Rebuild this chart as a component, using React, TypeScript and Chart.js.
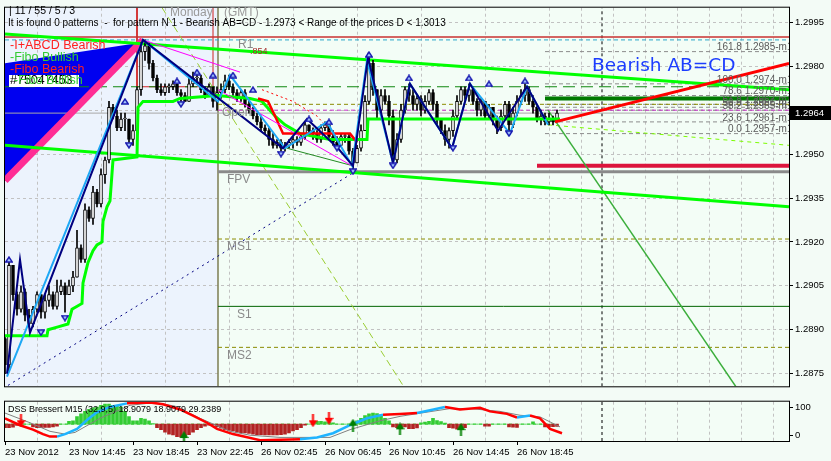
import React, { useEffect, useRef } from 'react';
import { Chart, registerables } from 'chart.js';

Chart.register(...registerables);

// ---------------- data ----------------
const timeLabels = ['23 Nov 2012', '23 Nov 14:45', '23 Nov 18:45', '23 Nov 22:45', '26 Nov 02:45', '26 Nov 06:45', '26 Nov 10:45', '26 Nov 14:45', '26 Nov 18:45'];
const barsPerLabel = 16;
const visibleBars = 196;

const firstOpen = 1.2887;
const closes = [
  1.2878, 1.2912, 1.2902, 1.2897, 1.2903, 1.2895, 1.2892, 1.2897, 1.2902, 1.2896,
  1.2900, 1.2902, 1.2898, 1.2903, 1.2905, 1.2902, 1.2905, 1.2908, 1.2918, 1.2914,
  1.2931, 1.2928, 1.2937, 1.2933, 1.2943, 1.2948, 1.2966, 1.2963, 1.2959, 1.2962,
  1.2962, 1.2955, 1.2958, 1.2972, 1.2985, 1.2987, 1.2981, 1.2976, 1.2972, 1.2971,
  1.2973, 1.2973, 1.2974, 1.2971, 1.2970, 1.2968, 1.2974, 1.2976, 1.2976, 1.2972,
  1.2970, 1.2973, 1.2968, 1.2971, 1.2972, 1.2975, 1.2973, 1.2971, 1.2969, 1.2971,
  1.2967, 1.2965, 1.2963, 1.2961, 1.2959, 1.2958, 1.2955, 1.2953, 1.2954, 1.2952,
  1.2953, 1.2954, 1.2955, 1.2954, 1.2956, 1.2960, 1.2958, 1.2957, 1.2955, 1.2959,
  1.2960, 1.2956, 1.2954, 1.2953, 1.2956, 1.2956, 1.2951, 1.2947, 1.2952, 1.2958,
  1.2968, 1.2981, 1.2972, 1.2965, 1.2970, 1.2968, 1.2963, 1.2948, 1.2955, 1.2965,
  1.2972, 1.2970, 1.2967, 1.2969, 1.2965, 1.2968, 1.2971, 1.2967, 1.2962, 1.2958,
  1.2955, 1.2958, 1.2963, 1.2968, 1.2972, 1.2970, 1.2972, 1.2968, 1.2965, 1.2968,
  1.2963, 1.2966, 1.2962, 1.2959, 1.2963, 1.2967, 1.2960, 1.2964, 1.2968, 1.2970,
  1.2972, 1.2968, 1.2966, 1.2962, 1.2963, 1.2961, 1.2962, 1.2961, 1.2964,
];
const highs = [
  1.2888, 1.2913, 1.2912, 1.2903, 1.2905, 1.2904, 1.2897, 1.2898, 1.2903, 1.2902,
  1.2902, 1.2905, 1.2903, 1.2907, 1.2907, 1.2906, 1.2907, 1.2910, 1.2924, 1.2919,
  1.2933, 1.2932, 1.2939, 1.2938, 1.2945, 1.2949, 1.2968, 1.2967, 1.2965, 1.2964,
  1.2964, 1.2962, 1.2960, 1.2973, 1.2988, 1.2989, 1.2988, 1.2982, 1.2977, 1.2974,
  1.2974, 1.2974, 1.2975, 1.2974, 1.2972, 1.2971, 1.2976, 1.2978, 1.2978, 1.2977,
  1.2973, 1.2974, 1.2973, 1.2973, 1.2974, 1.2977, 1.2977, 1.2974, 1.2972, 1.2972,
  1.2972, 1.2969, 1.2966, 1.2964, 1.2963, 1.2960, 1.2959, 1.2957, 1.2955, 1.2955,
  1.2954, 1.2955, 1.2956, 1.2956, 1.2957, 1.2961, 1.2960, 1.2959, 1.2958, 1.2960,
  1.2961, 1.2960, 1.2958, 1.2956, 1.2957, 1.2957, 1.2957, 1.2952, 1.2953, 1.2960,
  1.2970, 1.2983, 1.2982, 1.2972, 1.2972, 1.2972, 1.2970, 1.2965, 1.2957, 1.2967,
  1.2973, 1.2974, 1.2972, 1.2970, 1.2970, 1.2970, 1.2972, 1.2972, 1.2968, 1.2962,
  1.2960, 1.2959, 1.2965, 1.2970, 1.2973, 1.2973, 1.2974, 1.2973, 1.2969, 1.2969,
  1.2968, 1.2967, 1.2966, 1.2963, 1.2965, 1.2968, 1.2968, 1.2966, 1.2970, 1.2972,
  1.2974, 1.2973, 1.2970, 1.2967, 1.2965, 1.2964, 1.2964, 1.2963, 1.2965,
];
const lows = [
  1.2875, 1.2876, 1.2900, 1.2895, 1.2896, 1.2893, 1.2891, 1.2891, 1.2896, 1.2894,
  1.2894, 1.2898, 1.2897, 1.2897, 1.2902, 1.2896, 1.2902, 1.2903, 1.2908, 1.2913,
  1.2913, 1.2927, 1.2926, 1.2932, 1.2932, 1.2940, 1.2947, 1.2962, 1.2958, 1.2958,
  1.2958, 1.2954, 1.2953, 1.2958, 1.2970, 1.2982, 1.2979, 1.2975, 1.2971, 1.2970,
  1.2970, 1.2971, 1.2972, 1.2970, 1.2968, 1.2968, 1.2968, 1.2973, 1.2974, 1.2971,
  1.2969, 1.2970, 1.2966, 1.2965, 1.2969, 1.2971, 1.2972, 1.2970, 1.2968, 1.2968,
  1.2966, 1.2964, 1.2962, 1.2960, 1.2958, 1.2957, 1.2953, 1.2952, 1.2952, 1.2951,
  1.2951, 1.2952, 1.2952, 1.2953, 1.2953, 1.2955, 1.2957, 1.2955, 1.2954, 1.2954,
  1.2958, 1.2955, 1.2953, 1.2952, 1.2953, 1.2954, 1.2950, 1.2945, 1.2947, 1.2951,
  1.2958, 1.2967, 1.2970, 1.2962, 1.2964, 1.2967, 1.2960, 1.2947, 1.2947, 1.2954,
  1.2964, 1.2968, 1.2965, 1.2965, 1.2963, 1.2964, 1.2967, 1.2965, 1.2960, 1.2957,
  1.2953, 1.2952, 1.2956, 1.2962, 1.2967, 1.2968, 1.2968, 1.2967, 1.2963, 1.2963,
  1.2962, 1.2962, 1.2960, 1.2957, 1.2958, 1.2962, 1.2958, 1.2959, 1.2963, 1.2967,
  1.2968, 1.2967, 1.2964, 1.2961, 1.2960, 1.2960, 1.2960, 1.2960, 1.2961,
];

const priceTicks = [1.2875, 1.2890, 1.2905, 1.2920, 1.2935, 1.2950, 1.2965, 1.2980, 1.2995];
const priceMin = 1.28707;
const priceMax = 1.3;
const bidPrice = 1.2964;

const fibLevels = ['161.8', '100.0', '78.6', '61.8', '50.0', '38.2', '23.6', '0.0'];
const fibPrices = [1.2985, 1.2974, 1.2970, 1.2967, 1.2966, 1.2965, 1.2961, 1.2957];
const fibStartBar = 135;

const pivotNames = ['R1', 'Open', 'FPV', 'MS1', 'S1', 'MS2'];
const pivotPrices = [1.2990, 1.2967, 1.2944, 1.2921, 1.2898, 1.2884];
const pivotLabelBars = [58.25, 54.25, 55.5, 55.5, 58, 55.5];

const sessionStartBar = 53.25;
const nowBar = 149.25;
const tealPrice = 1.2989;
const swingPrice = 1.2973;
const targetPrice = 1.2969;
const stopPrice = 1.2946;
const magentaLevel = 1.2965;

const trendTop = [[0, 1.2991], [196, 1.2972]];
const trendBottom = [[0, 1.2953], [196, 1.2932]];
const greenSlant = [[135.75, 1.2965], [185, 1.2866]];
const abcdProjection = [[137.5, 1.2961], [196, 1.2981]];
const limeDashed = [[135.75, 1.2960], [196, 1.2953]];
const yellowDashed = [[39.25, 1.3], [99.5, 1.2871]];
const navyDotted = [[0.75, 1.2871], [87.5, 1.2944]];
const pinkEdge = [[0, 1.2941], [34.5, 1.2989]];
const blueWedge = [[0, 1.2981], [33.75, 1.2988], [0, 1.2941]];
const redBox = [[33, 1.3], [33, 1.2973], [52, 1.2973], [52, 1.3]];
const magentaA = [[34.5, 1.2989], [58.75, 1.2978]];
const magentaB = [[53.25, 1.2972], [86.75, 1.2946]];
const greenThin = [[70.5, 1.2952], [87, 1.2946]];
const redDotted = [[64.25, 1.2972], [72, 1.2968], [78, 1.2963], [81.25, 1.2958]];

const trailStop = [[0, 1.2888], [10.5, 1.2888], [10.75, 1.2890], [13.25, 1.2891], [15.75, 1.2892], [16.75, 1.2897], [19.25, 1.2899], [19.5, 1.2906], [20.75, 1.2913], [22, 1.2917], [23, 1.2919], [24.25, 1.2920], [24.5, 1.2927], [25.5, 1.2932], [26.25, 1.2934], [27, 1.2948], [33, 1.2949], [33.25, 1.2966], [34.5, 1.2968], [42, 1.2968], [43.75, 1.2969], [53, 1.2970], [61.25, 1.2969], [64.25, 1.2968], [67.5, 1.2963], [70, 1.2960], [73.75, 1.2957], [81.25, 1.2955], [90.5, 1.2955], [90.75, 1.2962], [138.75, 1.2962]];
const redStep = [[63.25, 1.2969], [65.75, 1.2968], [67.5, 1.2963], [69.5, 1.2957], [86.25, 1.2957], [88, 1.2954]];

const zigzagNavy = [[0.5, 1.2875], [3.75, 1.2914], [6.25, 1.2889], [34.5, 1.2989], [69.5, 1.2952], [75.5, 1.2962], [83.25, 1.2952], [87, 1.2946], [90.75, 1.2983], [97, 1.2947], [101.25, 1.2974], [111.75, 1.2952], [116.25, 1.2974], [123.25, 1.2958], [130.5, 1.2973], [135, 1.2962]];
const zigzagSky = [[0.5, 1.2874], [34.5, 1.2989], [53.25, 1.2968], [56.25, 1.2977], [70, 1.2952], [80.5, 1.2961], [86.75, 1.2946], [90.5, 1.2982], [97, 1.2947], [101.25, 1.2974], [111.75, 1.2952], [116.25, 1.2974], [126.25, 1.2957], [130.5, 1.2973], [135.75, 1.2960]];

const fractalUpBars = [1, 30, 43, 48, 52, 57, 62, 76, 81, 91, 101, 116, 121, 130];
const fractalUpPrices = [1.2914, 1.2968, 1.2975, 1.2978, 1.2977, 1.2977, 1.2972, 1.2962, 1.2961, 1.2984, 1.2976, 1.2976, 1.2974, 1.2975];
const fractalDownBars = [9, 15, 31, 44, 69, 83, 87, 97, 112, 126];
const fractalDownPrices = [1.2889, 1.2894, 1.2953, 1.2967, 1.2950, 1.2952, 1.2944, 1.2946, 1.2952, 1.2957];

// DSS Bressert indicator
const histBase = 40;
const dssHist = [
  27, 27, 29, 35, 40, 40, 40, 30, 27, 27,
  28, 28, 30, 33, 40, 40, 50, 52, 67, 77,
  86, 93, 99, 102, 108, 112, 112, 108, 108, 102,
  86, 67, 52, 52, 61, 58, 52, 42, 27, 20,
  11, 4, 1, -5, -7, -3, 2, 11, 20, 27,
  33, 36, 36, 30, 25, 20, 17, 15, 11, 9,
  8, 6, 4, 2, 2, 1, 1, 1, 1, 2,
  4, 8, 15, 20, 27, 36, 40, 44, 50, 50,
  48, 47, 45, 40, 40, 40, 40, 45, 52, 61,
  71, 77, 80, 78, 74, 61, 52, 30, 27, 27,
  30, 24, 24, 26, 45, 47, 50, 61, 53, 49,
  44, 27, 25, 22, 22, 27, 40, 40, 40, 40,
  33, 33, 40, 40, 40, 40, 30, 29, 28, 40,
  40, 40, 48, 40, 40, 30, 30, 31, 32,
];
const dssX = [0, 3.75, 7, 9.5, 11.25, 13, 15, 18, 20.5, 23, 26.25, 30.5, 36.25, 39.5, 43.75, 47, 50.5, 53, 57, 63.75, 73.75, 78, 82, 86.25, 90.5, 94.5, 98.75, 103, 106.25, 110, 113.75, 118.75, 121.25, 125.5, 128, 131.25, 133.75, 136.25, 139.25];
const dssY = [61, 36, 20, 4, -5, -5, 4, 23, 55, 83, 102, 115, 118, 112, 93, 71, 45, 23, 4, -18, -15, -8, 7, 36, 61, 74, 77, 80, 90, 102, 93, 99, 86, 77, 64, 71, 61, 23, 7];
const sigX = [0, 6.25, 11.25, 15, 17.5, 23.75, 31.25, 37.5, 42.5, 48.75, 56.25, 61.25, 68.75, 81.25, 86.25, 93.75, 98.75, 106.25, 111.25, 116.25, 123.75, 128.75, 133.75, 136.25, 138.75];
const sigY = [80, 45, 14, 4, 10, 61, 108, 118, 105, 61, 14, 0, -8, -8, 20, 52, 68, 85, 96, 96, 86, 72, 66, 48, 30];
const sellArrowX = [4, 77, 81];
const sellArrowY = [52, 52, 61];
const buyArrowX = [44.75, 87, 98.75, 114];
const buyArrowY = [-8.5, 36, 23, 20];
const indMin = -21;
const indMax = 121;
const indTicks = [0, 100];

// ---------------- helpers ----------------
const FONT = '"Liberation Sans", Arial, sans-serif';
const PLOT_BG = '#F3FDF6';
const LEFT_BG = '#ECF3FD';
const GRID = '#C2C2C2';

const pts = (a: number[][]) => a.map(([x, y]) => ({ x, y }));
const hLine = (x0: number, x1: number, p: number) => [{ x: x0, y: p }, { x: x1, y: p }];
const vLine = (x: number, lo: number, hi: number) => [{ x, y: lo }, { x, y: hi }];

function line(data: any[], color: string, width: number, order: number, dash: number[] = []) {
  return {
    type: 'line', data, borderColor: color, borderWidth: width, borderDash: dash,
    pointRadius: 0, pointHoverRadius: 0, fill: false, tension: 0, order,
  };
}

const isLabelTick = (v: number) => v % barsPerLabel === 0 && v / barsPerLabel < timeLabels.length;
const gridColorX = (v: number) => {
  if (v === undefined || v === 0) return 'rgba(0,0,0,0)';
  const show = v <= 136 ? v % 16 === 8 : v % 8 === 0;
  return show ? GRID : 'rgba(0,0,0,0)';
};

function xScale(showLabels: boolean) {
  return {
    type: 'linear', min: 0, max: visibleBars, offset: false,
    afterBuildTicks: (s: any) => {
      const t = [];
      for (let v = 0; v <= visibleBars; v += 8) t.push({ value: v });
      s.ticks = t;
    },
    grid: {
      offset: false, color: (c: any) => gridColorX(c.tick && c.tick.value), lineWidth: 1,
      drawTicks: showLabels, tickLength: 4, tickWidth: 1, tickBorderDash: [],
      tickColor: (c: any) => (c.tick && isLabelTick(c.tick.value) ? '#000' : 'rgba(0,0,0,0)'),
    },
    border: { display: false, dash: [3, 3] },
    ticks: {
      display: showLabels, autoSkip: false, maxRotation: 0, minRotation: 0, align: 'start', padding: 2,
      color: '#000', font: { family: FONT, size: 9.5 },
      callback: (v: number) => (isLabelTick(v) ? timeLabels[v / barsPerLabel] : ''),
    },
    afterFit: (s: any) => { s.height = showLabels ? 20 : 0; },
  };
}

function chevron(up: boolean) {
  const c = document.createElement('canvas');
  c.width = 8; c.height = 7;
  const g = c.getContext('2d')!;
  g.strokeStyle = '#1818B0'; g.fillStyle = '#A8CCFF'; g.lineWidth = 1.4;
  g.beginPath();
  if (up) { g.moveTo(0.7, 6); g.lineTo(4, 1); g.lineTo(7.3, 6); }
  else { g.moveTo(0.7, 1); g.lineTo(4, 6); g.lineTo(7.3, 1); }
  g.closePath(); g.fill(); g.stroke();
  return c;
}

function arrow(color: string, down: boolean) {
  const c = document.createElement('canvas');
  c.width = 9; c.height = 13;
  const g = c.getContext('2d')!;
  g.fillStyle = color;
  if (down) {
    g.fillRect(3.5, 0, 2, 8);
    g.beginPath(); g.moveTo(0, 6); g.lineTo(9, 6); g.lineTo(4.5, 13); g.closePath(); g.fill();
  } else {
    g.fillRect(3.5, 5, 2, 8);
    g.beginPath(); g.moveTo(0, 7); g.lineTo(9, 7); g.lineTo(4.5, 0); g.closePath(); g.fill();
  }
  return c;
}

// ---------------- main price chart ----------------
function mainConfig() {
  const opens = closes.map((c, i) => (i === 0 ? firstOpen : closes[i - 1]));
  const wickData = closes.map((c, i) => ({ x: i, y: [Math.min(lows[i], opens[i], c), Math.max(highs[i], opens[i], c)] }));
  const bodyData = closes.map((c, i) => ({ x: i, y: [opens[i], c] }));
  const bodyColors = closes.map((c, i) => (c >= opens[i] ? '#FFFFFF' : '#000000'));

  const ds: any[] = [];
  ds.push(line(vLine(sessionStartBar, priceMin, priceMax), '#7C7C52', 1.5, 40));
  ds.push(line(vLine(nowBar, priceMin, priceMax), '#000000', 1, 40, [3, 3]));
  ds.push(line(pts(redBox), '#D02020', 1, 39));
  ds.push(line(hLine(0, visibleBars, pivotPrices[0]), '#C83030', 1.5, 38));
  ds.push(line(hLine(0, visibleBars, tealPrice), '#2AA8C8', 1, 38, [4, 3]));
  ds.push(line(hLine(0, visibleBars, swingPrice), '#118811', 1.2, 37, [12, 6]));
  ds.push(line(hLine(sessionStartBar, visibleBars, pivotPrices[1]), '#8B8B00', 1, 37, [4, 3]));
  ds.push(line(hLine(sessionStartBar, visibleBars, magentaLevel), '#CC33CC', 1, 37, [4, 3]));
  ds.push(line(hLine(0, visibleBars, bidPrice), '#A8A8A8', 1, 37));
  fibPrices.forEach((p) => ds.push(line(hLine(fibStartBar, visibleBars, p), '#8C8C8C', 1, 37, [4, 3])));
  ds.push(line(hLine(fibStartBar, visibleBars, targetPrice), '#007A00', 4, 36));
  ds.push(line(hLine(133, visibleBars, stopPrice), '#DC143C', 4, 36));
  ds.push(line(hLine(sessionStartBar, visibleBars, pivotPrices[2]), '#8A8A8A', 3, 36));
  ds.push(line(hLine(sessionStartBar, visibleBars, pivotPrices[3]), '#8B8B00', 1, 36, [4, 3]));
  ds.push(line(hLine(sessionStartBar, visibleBars, pivotPrices[4]), '#006400', 1, 36));
  ds.push(line(hLine(sessionStartBar, visibleBars, pivotPrices[5]), '#8B8B00', 1, 36, [4, 3]));
  ds.push(line(pts(yellowDashed), '#9ACD32', 1, 34, [7, 4]));
  ds.push(line(pts(navyDotted), '#000080', 1, 34, [2, 4]));
  ds.push(line(pts(pinkEdge), '#FF2D95', 7, 33));
  ds.push(line(pts(trendTop), '#00FF00', 3, 30));
  ds.push(line(pts(trendBottom), '#00FF00', 3, 30));
  ds.push(line(pts(greenSlant), '#3BAE3B', 1.5, 30));
  ds.push(line(pts(limeDashed), '#7CFC00', 1, 30, [4, 4]));
  ds.push({ type: 'bar', data: wickData, backgroundColor: '#000000', barThickness: 1, grouped: false, order: 25 });
  ds.push({
    type: 'bar', data: bodyData, backgroundColor: bodyColors, borderColor: '#000000', borderWidth: 1,
    borderSkipped: false, barThickness: 3, grouped: false, minBarLength: 1, order: 24,
  });
  ds.push(line(pts(trailStop), '#00FF00', 3, 22));
  ds.push(line(pts(redStep), '#FF0000', 2.5, 21));
  ds.push(line(pts(redDotted), '#FF0000', 1, 21, [2, 3]));
  ds.push(line(pts(magentaA), '#FF00FF', 1, 20));
  ds.push(line(pts(magentaB), '#FF00FF', 1, 20));
  ds.push(line(pts(greenThin), '#228B22', 1, 20));
  ds.push(line(pts(zigzagSky), '#1EA8F5', 2, 19));
  ds.push(line(pts(zigzagNavy), '#000080', 2, 18));
  ds.push(line(pts(abcdProjection), '#FF0000', 3, 15));
  ds.push({
    type: 'line', showLine: false, order: 10, pointStyle: chevron(true), pointRadius: 4,
    data: fractalUpBars.map((x, i) => ({ x, y: fractalUpPrices[i] })),
  });
  ds.push({
    type: 'line', showLine: false, order: 10, pointStyle: chevron(false), pointRadius: 4,
    data: fractalDownBars.map((x, i) => ({ x, y: fractalDownPrices[i] })),
  });

  const decor = {
    id: 'mainDecor',
    beforeDraw(chart: any) {
      const { ctx, chartArea: a, scales } = chart;
      ctx.save();
      ctx.fillStyle = PLOT_BG;
      ctx.fillRect(a.left, a.top, a.right - a.left, a.bottom - a.top);
      const xr = scales.x.getPixelForValue(sessionStartBar);
      ctx.fillStyle = LEFT_BG;
      ctx.fillRect(a.left, a.top, xr - a.left, a.bottom - a.top);
      ctx.restore();
    },
    beforeDatasetsDraw(chart: any) {
      const { ctx, chartArea: a, scales } = chart;
      ctx.save();
      ctx.beginPath();
      ctx.rect(a.left, a.top, a.right - a.left, a.bottom - a.top);
      ctx.clip();
      ctx.fillStyle = '#0000F0';
      ctx.beginPath();
      blueWedge.forEach(([x, y], i) => {
        const px = scales.x.getPixelForValue(x);
        const py = scales.y.getPixelForValue(y);
        if (i === 0) ctx.moveTo(px, py); else ctx.lineTo(px, py);
      });
      ctx.closePath();
      ctx.fill();
      ctx.restore();
    },
    afterDraw(chart: any) {
      const { ctx, chartArea: a, scales } = chart;
      const xs = scales.x, ys = scales.y;
      ctx.save();
      // frame
      ctx.strokeStyle = '#000';
      ctx.lineWidth = 1;
      ctx.strokeRect(a.left - 0.5, a.top - 0.5, a.right - a.left + 1, a.bottom - a.top + 1);

      // fib labels (clipped at the plot edge)
      ctx.save();
      ctx.beginPath();
      ctx.rect(a.left, a.top, a.right - a.left, a.bottom - a.top);
      ctx.clip();
      ctx.font = `10px ${FONT}`;
      ctx.fillStyle = '#5A5A5A';
      ctx.textAlign = 'right';
      ctx.textBaseline = 'bottom';
      fibPrices.forEach((p, i) => {
        ctx.fillText(`${fibLevels[i]} ${p.toFixed(4)}-m15`, a.right + 9, ys.getPixelForValue(p) + 1);
      });
      ctx.restore();

      // pivot labels
      ctx.font = `12px ${FONT}`;
      ctx.fillStyle = '#8A8A8A';
      ctx.textAlign = 'left';
      ctx.textBaseline = 'top';
      pivotNames.forEach((n, i) => {
        ctx.fillText(n, xs.getPixelForValue(pivotLabelBars[i]), ys.getPixelForValue(pivotPrices[i]) + 2);
      });
      ctx.font = `9px ${FONT}`;
      ctx.fillStyle = '#A52A2A';
      ctx.textBaseline = 'middle';
      ctx.fillText('.854', 250, 52);

      // header
      ctx.fillStyle = '#000';
      ctx.font = `10.5px ${FONT}`;
      ctx.fillText('| 11 / 55 / 5 / 3', 9, 11);
      ctx.font = `10px ${FONT}`;
      ctx.fillText('It is found 0 patterns  -  for pattern N 1 - Bearish AB=CD - 1.2973 < Range of the prices D < 1.3013', 8, 23);
      ctx.font = `12px ${FONT}`;
      ctx.fillStyle = '#9A9A9A';
      ctx.fillText('Monday', 170, 13);
      ctx.fillText('(GMT)', 224, 13);

      // pattern legend
      ctx.font = `12.5px ${FONT}`;
      ctx.fillStyle = '#FF2020';
      ctx.fillText('-I+ABCD Bearish', 10, 46);
      ctx.fillStyle = '#33CC33';
      ctx.fillText('-Fibo Bullish', 10, 58);
      ctx.fillStyle = '#FF2020';
      ctx.fillText('-Fibo Bearish', 10, 70);
      ctx.fillStyle = '#FFFFFF';
      ctx.fillRect(9, 75, 70, 12);
      ctx.fillStyle = '#000';
      ctx.fillText('#75047453', 10, 81);
      ctx.fillStyle = '#33CC33';
      ctx.fillText('-Fibo Bullish', 14, 81);

      // title of the pattern
      ctx.font = '18.5px "DejaVu Sans", sans-serif';
      ctx.fillStyle = '#1C3DFF';
      ctx.fillText('Bearish AB=CD', 592, 66);

      // bid price box
      const by = Math.round(ys.getPixelForValue(bidPrice));
      ctx.fillStyle = '#000';
      ctx.fillRect(a.right + 1, by - 7, 42, 14);
      ctx.fillStyle = '#FFF';
      ctx.font = `9.5px ${FONT}`;
      ctx.fillText(bidPrice.toFixed(4), a.right + 6, by);
      ctx.restore();
    },
  };

  return {
    type: 'line',
    data: { datasets: ds },
    options: {
      responsive: false, maintainAspectRatio: false, animation: false, events: [],
      layout: { padding: { left: 5, top: 5, right: 0, bottom: 1 } },
      plugins: { legend: { display: false }, tooltip: { enabled: false } },
      scales: {
        x: xScale(false),
        y: {
          type: 'linear', position: 'right', min: priceMin, max: priceMax,
          afterBuildTicks: (s: any) => { s.ticks = priceTicks.map((v) => ({ value: v })); },
          ticks: { color: '#000', font: { family: FONT, size: 9.5 }, padding: 2, autoSkip: false, callback: (v: number) => Number(v).toFixed(4) },
          grid: { color: GRID, lineWidth: 1, drawTicks: true, tickLength: 4, tickColor: '#000', tickBorderDash: [] },
          border: { display: false, dash: [3, 3] },
          afterFit: (s: any) => { s.width = 42; },
        },
      },
    },
    plugins: [decor],
  };
}

// ---------------- DSS indicator ----------------
function indConfig() {
  const ds: any[] = [];
  ds.push(line(vLine(nowBar, indMin, indMax), '#000000', 1, 40, [3, 3]));
  ds.push(line(hLine(0, closes.length - 1, histBase), '#33CC33', 1, 35, [3, 3]));
  ds.push({
    type: 'bar', order: 30, grouped: false, barThickness: 3,
    data: dssHist.map((v, i) => ({ x: i, y: [histBase, v] })),
    backgroundColor: dssHist.map((v) => (v >= histBase ? '#33CC33' : '#B22222')),
  });
  ds.push(line(sigX.map((x, i) => ({ x, y: sigY[i] })), '#808080', 1, 25));
  ds.push({
    ...line(dssX.map((x, i) => ({ x, y: dssY[i] })), '#FF0000', 2.5, 20),
    segment: { borderColor: (c: any) => (c.p1.parsed.y - c.p0.parsed.y > 6.5 ? '#1EB4FF' : '#FF0000') },
  });
  ds.push({
    type: 'line', showLine: false, order: 10, pointStyle: arrow('#FF0000', true), pointRadius: 4,
    data: sellArrowX.map((x, i) => ({ x, y: sellArrowY[i] })),
  });
  ds.push({
    type: 'line', showLine: false, order: 10, pointStyle: arrow('#008000', false), pointRadius: 4,
    data: buyArrowX.map((x, i) => ({ x, y: buyArrowY[i] })),
  });

  const decor = {
    id: 'indDecor',
    beforeDraw(chart: any) {
      const { ctx, chartArea: a } = chart;
      ctx.save();
      ctx.fillStyle = PLOT_BG;
      ctx.fillRect(a.left, a.top, a.right - a.left, a.bottom - a.top);
      ctx.restore();
    },
    afterDraw(chart: any) {
      const { ctx, chartArea: a } = chart;
      ctx.save();
      ctx.strokeStyle = '#000';
      ctx.lineWidth = 1;
      ctx.strokeRect(a.left - 0.5, a.top - 0.5, a.right - a.left + 1, a.bottom - a.top + 1);
      ctx.fillStyle = '#000';
      ctx.font = `9px ${FONT}`;
      ctx.textBaseline = 'middle';
      ctx.fillText('DSS Bressert M15 (32,9,5) 18.9079 18.9079 29.2389', 8, a.top + 8);
      ctx.restore();
    },
  };

  return {
    type: 'line',
    data: { datasets: ds },
    options: {
      responsive: false, maintainAspectRatio: false, animation: false, events: [],
      layout: { padding: { left: 5, top: 2, right: 0, bottom: 0 } },
      plugins: { legend: { display: false }, tooltip: { enabled: false } },
      scales: {
        x: xScale(true),
        y: {
          type: 'linear', position: 'right', min: indMin, max: indMax,
          afterBuildTicks: (s: any) => { s.ticks = indTicks.map((v) => ({ value: v })); },
          ticks: { color: '#000', font: { family: FONT, size: 9.5 }, padding: 2, autoSkip: false },
          grid: { drawOnChartArea: false, drawTicks: true, tickLength: 4, tickColor: '#000' },
          border: { display: false },
          afterFit: (s: any) => { s.width = 42; },
        },
      },
    },
    plugins: [decor],
  };
}

export default function App() {
  const mainRef = useRef<HTMLCanvasElement>(null);
  const indRef = useRef<HTMLCanvasElement>(null);

  useEffect(() => {
    document.body.style.margin = '0';
    const main = new Chart(mainRef.current as HTMLCanvasElement, mainConfig() as any);
    const ind = new Chart(indRef.current as HTMLCanvasElement, indConfig() as any);
    return () => {
      main.destroy();
      ind.destroy();
    };
  }, []);

  return (
    <div style={{ position: 'absolute', left: 0, top: 0, width: 831, height: 461, background: '#F3FBF6', overflow: 'hidden' }}>
      <canvas ref={mainRef} width={831} height={394} style={{ position: 'absolute', left: 0, top: 0, width: 831, height: 394 }} />
      <canvas ref={indRef} width={831} height={67} style={{ position: 'absolute', left: 0, top: 394, width: 831, height: 67 }} />
    </div>
  );
}
